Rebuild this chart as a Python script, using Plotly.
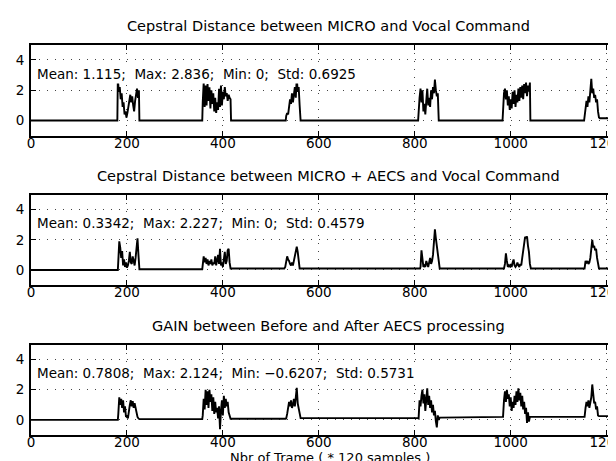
import plotly.graph_objects as go

# ---------------- data (frame index, value) ----------------
frames_micro = [0, 180,
    181, 183, 185, 187, 189, 191, 193, 195, 197, 199, 201, 203, 205, 207, 209, 211, 213, 215, 217, 219, 221, 223, 225, 226,
    357,
    358, 360, 362, 364, 366, 368, 370, 372, 374, 376, 378, 380, 382, 384, 386, 388, 390, 392, 394, 396, 398, 400, 402, 404, 406, 408, 410, 412, 414, 416, 417,
    531,
    532, 534, 536, 538, 540, 542, 544, 546, 548, 550, 552, 554, 556, 558, 560, 562,
    807,
    808, 810, 812, 814, 816, 818, 820, 822, 824, 826, 828, 830, 832, 834, 836, 838, 840, 842, 844, 846, 848, 850,
    983,
    984, 986, 988, 990, 992, 994, 996, 998, 1000, 1002, 1004, 1006, 1008, 1010, 1012, 1014, 1016, 1018, 1020, 1022, 1024, 1026, 1028, 1030, 1032, 1034, 1036, 1038, 1040, 1041,
    1153,
    1154, 1156, 1158, 1160, 1162, 1164, 1166, 1168, 1170, 1172, 1174, 1176, 1178, 1180, 1182, 1184, 1186,
    1240]
dist_micro = [0.0, 0.0,
    2.8, 1.9, 2.2, 1.4, 1.8, 0.9, 1.2, 0.4, 0.6, 0.2, 0.5, 0.9, 1.4, 1.7, 1.2, 1.6, 1.0, 0.6, 1.3, 1.8, 2.1, 1.5, 2.0, 0.0,
    0.0,
    1.2, 2.5, 0.9, 2.3, 1.0, 2.4, 1.3, 2.2, 0.8, 2.0, 1.1, 1.8, 0.6, 1.5, 0.5, 1.2, 0.7, 2.1, 0.9, 2.3, 1.0, 1.9, 1.4, 2.2, 1.6, 1.8, 1.3, 1.7, 1.5, 1.4, 0.0,
    0.0,
    0.3, 0.5, 0.4, 1.0, 1.4, 1.1, 1.8, 1.2, 1.6, 2.2, 1.5, 2.836, 1.9, 2.2, 1.0, 0.0,
    0.0,
    0.8, 1.5, 2.1, 1.2, 2.0, 0.6, 1.1, 0.4, 1.3, 2.1, 1.0, 1.5, 0.9, 2.0, 1.4, 2.2, 1.8, 2.7, 2.0, 1.6, 1.8, 0.0,
    0.0,
    0.8, 1.8, 2.1, 1.4, 2.0, 1.0, 1.6, 0.7, 1.4, 0.8, 1.9, 1.1, 2.0, 0.9, 1.7, 1.2, 2.1, 1.3, 2.2, 1.5, 2.3, 1.4, 2.4, 1.8, 2.5, 1.6, 2.3, 1.9, 2.5, 0.0,
    0.0,
    0.3, 0.8, 1.3, 0.9, 1.6, 1.2, 1.9, 2.75, 1.8, 2.1, 1.5, 1.7, 1.2, 1.4, 0.6, 0.2, 0.15,
    0.15]

frames_aecs = [0, 181,
    182, 184, 186, 188, 190, 192, 194, 196, 198, 200, 202, 204, 206, 208, 210, 212, 214, 216, 218, 220, 222, 224, 226,
    357,
    358, 360, 362, 364, 366, 368, 370, 372, 374, 376, 378, 380, 382, 384, 386, 388, 390, 392, 394, 396, 398, 400, 402, 404, 406, 408, 410, 412, 414, 416,
    527,
    528, 530, 532, 534, 536, 538, 540, 542, 544, 546, 548, 550, 552, 554, 556, 558, 560,
    811,
    812, 814, 816, 818, 820, 822, 824, 826, 828, 830, 832, 834, 836, 838, 840, 842, 844, 846, 848, 850, 852,
    985,
    986, 988, 990, 992, 994, 996, 998, 1000, 1002, 1004, 1006, 1008, 1010, 1012, 1014, 1016, 1018, 1020, 1022, 1024, 1026, 1028, 1030, 1032, 1034, 1036, 1038, 1040, 1042,
    1153,
    1154, 1156, 1158, 1160, 1162, 1164, 1166, 1168, 1170, 1172, 1174, 1176, 1178, 1180, 1182, 1184,
    1240]
dist_aecs = [0.0, 0.0,
    0.6, 1.9, 1.5, 0.8, 1.25, 0.3, 0.7, 0.2, 0.5, 0.15, 0.3, 0.6, 1.2, 0.5, 0.4, 0.9, 0.6, 0.3, 0.8, 1.4, 2.1, 1.0, 0.05,
    0.05,
    0.3, 0.9, 0.5, 0.8, 0.4, 0.7, 0.3, 0.6, 0.4, 0.7, 0.3, 0.5, 0.4, 0.9, 0.3, 0.6, 1.0, 0.4, 1.4, 0.3, 0.5, 0.2, 0.8, 1.2, 0.4, 0.6, 1.3, 1.4, 0.5, 0.1,
    0.1,
    0.1, 0.2, 0.5, 0.9, 0.7, 0.6, 0.4, 0.3, 0.5, 0.3, 0.6, 1.0, 1.4, 1.55, 1.2, 0.4, 0.1,
    0.1,
    0.2, 1.3, 0.8, 0.2, 0.3, 0.2, 0.6, 0.3, 0.2, 0.5, 0.8, 0.4, 0.6, 1.0, 1.9, 2.7, 2.1, 1.5, 1.0, 0.3, 0.1,
    0.1,
    0.1, 0.4, 1.1, 0.6, 0.2, 0.3, 0.2, 0.4, 0.2, 0.5, 0.7, 0.3, 0.2, 0.3, 0.5, 0.3, 0.2, 0.4, 0.3, 0.8, 1.3, 1.8, 2.2, 2.1, 2.227, 1.6, 1.2, 0.4, 0.1,
    0.1,
    0.1, 0.6, 0.5, 0.6, 0.4, 0.5, 0.8, 1.4, 2.0, 1.5, 1.6, 1.3, 1.4, 0.8, 0.5, 0.1,
    0.1]

frames_gain = [0, 181,
    182, 184, 186, 188, 190, 192, 194, 196, 198, 200, 202, 204, 206, 208, 210, 212, 214, 216, 218, 220, 222, 224, 226,
    357,
    358, 360, 362, 364, 366, 368, 370, 372, 374, 376, 378, 380, 382, 384, 386, 388, 390, 392, 394, 396, 398, 400, 402, 404, 406, 408, 410, 412, 414, 416,
    531,
    532, 534, 536, 538, 540, 542, 544, 546, 548, 550, 552, 554, 556, 558, 560, 562,
    807,
    808, 810, 812, 814, 816, 818, 820, 822, 824, 826, 828, 830, 832, 834, 836, 838, 840, 842, 844, 846, 848, 850, 852,
    983,
    984, 986, 988, 990, 992, 994, 996, 998, 1000, 1002, 1004, 1006, 1008, 1010, 1012, 1014, 1016, 1018, 1020, 1022, 1024, 1026, 1028, 1030, 1032, 1034, 1036, 1038, 1040,
    1153,
    1154, 1156, 1158, 1160, 1162, 1164, 1166, 1168, 1170, 1172, 1174, 1176, 1178, 1180, 1182, 1184,
    1240]
gain = [0.0, 0.0,
    0.4, 1.5, 1.0, 1.4, 0.8, 1.3, 0.5, 0.9, 0.2, 0.3, 0.1, 0.7, 1.0, 1.3, 0.9, 1.25, 0.8, 1.1, 0.7, 0.4, 0.2, 0.1, 0.05,
    0.05,
    0.3, 1.4, 0.7, 2.0, 1.0, 1.9, 0.8, 2.0, 1.2, 1.7, 0.6, 1.5, 0.4, 1.2, 0.5, 0.8, 0.1, 0.9, -0.6207, 0.6, 1.3, 0.3, 1.6, 0.8, 1.4, 0.9, 1.2, 0.5, 0.3, 0.08,
    0.08,
    0.1, 0.4, 0.8, 1.2, 0.9, 1.3, 0.8, 1.0, 1.4, 0.9, 1.5, 2.124, 1.1, 0.7, 0.3, 0.12,
    0.12,
    0.1, 1.3, 0.9, 1.6, 2.0, 1.1, 1.7, 0.6, 1.2, 2.1, 1.0, 1.6, 0.8, 1.3, 0.5, 1.0, 0.3, 0.6, -0.1, -0.5, 0.3, 0.0, 0.15,
    0.15,
    0.2, 1.3, 1.9, 1.2, 2.0, 1.4, 1.7, 0.9, 1.5, 0.6, 1.2, 0.8, 1.6, 1.0, 1.9, 1.2, 2.1, 1.3, 1.8, 0.9, 1.6, 0.7, 1.2, 0.4, 0.8, -0.2, 0.5, -0.1, 0.2,
    0.2,
    0.2, 0.8, 1.2, 0.9, 1.3, 0.8, 1.1, 1.5, 2.35, 1.4, 1.1, 1.2, 0.7, 0.9, 0.3, 0.25,
    0.25]

titles = ["Cepstral Distance between MICRO and Vocal Command",
          "Cepstral Distance between MICRO + AECS and Vocal Command",
          "GAIN between Before and After AECS processing"]
stats = ["Mean: 1.115;  Max: 2.836;  Min: 0;  Std: 0.6925",
         "Mean: 0.3342;  Max: 2.227;  Min: 0;  Std: 0.4579",
         "Mean: 0.7808;  Max: 2.124;  Min: −0.6207;  Std: 0.5731"]
x_ticks = [0, 200, 400, 600, 800, 1000, 1200]
y_ticks = [0, 2, 4]
x_label = "Nbr of Trame ( * 120 samples )"

# ---------------- figure ----------------
W, H = 616, 461
FONT = "DejaVu Sans, Verdana, sans-serif"
series = [(frames_micro, dist_micro), (frames_aecs, dist_aecs), (frames_gain, gain)]
# panel pixel boxes (top, bottom)
boxes = [(36.7, 127.7), (186.7, 277.0), (336.5, 427.0)]

fig = go.Figure()
layout = dict(width=W, height=H, margin=dict(l=23, r=0, t=0, b=0),
              paper_bgcolor="white", plot_bgcolor="white", showlegend=False,
              font=dict(family=FONT, color="black"))
annotations = []
for i, ((fx, fy), (top, bot)) in enumerate(zip(series, boxes)):
    n = "" if i == 0 else str(i + 1)
    fig.add_trace(go.Scatter(x=fx, y=fy, mode="lines",
                             line=dict(color="black", width=1.9),
                             xaxis="x" + n, yaxis="y" + n, hoverinfo="skip"))
    layout["xaxis" + n] = dict(
        domain=[0, 1], range=[0, 1232], anchor="y" + n,
        tickmode="array", tickvals=x_ticks, ticktext=[str(v) for v in x_ticks],
        ticks="inside", ticklen=5, tickwidth=1.4, tickcolor="black",
        showline=True, linecolor="black", linewidth=2, mirror="ticks",
        showgrid=True, gridcolor="#444", gridwidth=1, griddash="1px,7px",
        zeroline=False, tickfont=dict(size=13.5, family=FONT, color="black"),
        ticklabelstandoff=-6, ticklabeloverflow="allow", fixedrange=True)
    layout["yaxis" + n] = dict(
        domain=[1 - bot / H, 1 - top / H], range=[-1, 5], anchor="x" + n,
        tickmode="array", tickvals=y_ticks, ticktext=[str(v) for v in y_ticks],
        ticks="inside", ticklen=5, tickwidth=1.4, tickcolor="black",
        showline=True, linecolor="black", linewidth=2, mirror=False,
        showgrid=True, gridcolor="#444", gridwidth=1, griddash="1px,7px",
        zeroline=False, tickfont=dict(size=13.5, family=FONT, color="black"),
        ticklabelstandoff=2, fixedrange=True)
    annotations.append(dict(text=titles[i], xref="paper", yref="paper",
                            x=(322 - 23) / (W - 23), y=1 - (top - 19) / H,
                            xanchor="center", yanchor="middle", showarrow=False,
                            font=dict(size=14.5, family=FONT, color="black")))
    annotations.append(dict(text=stats[i], xref="x" + n, yref="y" + n,
                            x=9, y=3.1, xanchor="left", yanchor="middle",
                            showarrow=False, bgcolor="white",
                            font=dict(size=13.5, family=FONT, color="black")))

annotations.append(dict(text=x_label, xref="paper", yref="paper",
                        x=(323 - 23) / (W - 23), y=1 - 449 / H,
                        xanchor="center", yanchor="middle", showarrow=False,
                        font=dict(size=13, family=FONT, color="black")))
layout["annotations"] = annotations
fig.update_layout(**layout)
fig.write_html("out.html")
